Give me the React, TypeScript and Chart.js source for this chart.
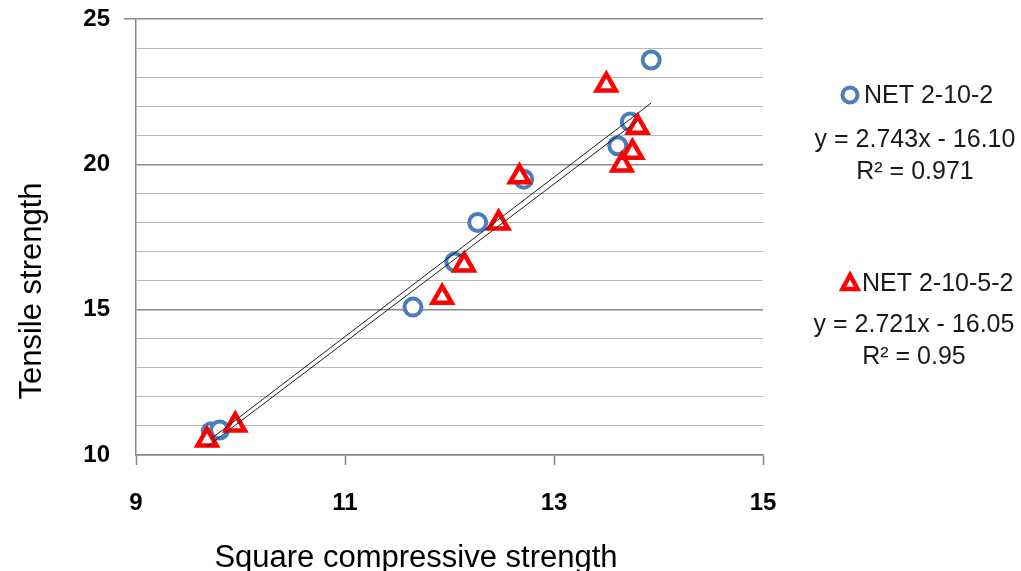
import React, { useEffect, useRef } from 'react';
import { Chart, registerables } from 'chart.js';

Chart.register(...registerables);

// NET 2-10-2 (blue circles)
const net2102X = [9.72, 9.80, 11.65, 12.05, 12.27, 12.71, 13.61, 13.73, 13.93];
const net2102Y = [10.80, 10.86, 15.09, 16.64, 18.00, 19.49, 20.64, 21.46, 23.59];

// NET 2-10-5-2 (red triangles)
const net21052X = [9.68, 9.95, 11.93, 12.14, 12.47, 12.67, 13.50, 13.65, 13.75, 13.80];
const net21052Y = [10.52, 11.03, 15.43, 16.54, 17.98, 19.57, 22.73, 19.98, 20.42, 21.28];

// linear trendlines (slope, intercept, R²)
const fit2102 = { slope: 2.743, intercept: -16.10, r2: '0.971' };
const fit21052 = { slope: 2.721, intercept: -16.05, r2: '0.95' };

const seriesNames = ['NET 2-10-2', 'NET 2-10-5-2'];
const xTitle = 'Square compressive strength';
const yTitle = 'Tensile strength';

const BLUE = '#4a7ebb';
const RED = '#ff0000';

function pts(xs: number[], ys: number[]) {
  return xs.map((x, i) => ({ x, y: ys[i] }));
}
function trend(xs: number[], fit: { slope: number; intercept: number }) {
  const lo = Math.min(...xs);
  const hi = Math.max(...xs);
  return [lo, hi].map((x) => ({ x, y: fit.slope * x + fit.intercept }));
}

const overlayPlugin = {
  id: 'overlay',
  afterDraw(chart: any) {
    const ctx = chart.ctx as CanvasRenderingContext2D;
    ctx.save();
    ctx.fillStyle = '#000';
    // axis titles
    ctx.font = '31px "Liberation Sans", Arial, sans-serif';
    ctx.textAlign = 'center';
    ctx.textBaseline = 'alphabetic';
    ctx.fillText(xTitle, 416, 567);
    ctx.save();
    ctx.translate(41, 291);
    ctx.rotate(-Math.PI / 2);
    ctx.fillText(yTitle, 0, 0);
    ctx.restore();

    // legend / trendline labels
    ctx.fillStyle = '#1a1a1a';
    ctx.font = '25px "Liberation Sans", Arial, sans-serif';
    ctx.textBaseline = 'middle';

    // series 1
    ctx.strokeStyle = BLUE;
    ctx.lineWidth = 4;
    ctx.beginPath();
    ctx.arc(850, 95, 7.5, 0, Math.PI * 2);
    ctx.stroke();
    ctx.textAlign = 'left';
    ctx.fillText(seriesNames[0], 864, 96);
    ctx.textAlign = 'center';
    ctx.fillText(`y = ${fit2102.slope.toFixed(3)}x - ${Math.abs(fit2102.intercept).toFixed(2)}`, 915, 140);
    ctx.fillText(`R\u00B2 = ${fit2102.r2}`, 915, 172);

    // series 2
    ctx.strokeStyle = RED;
    ctx.lineWidth = 4.5;
    ctx.lineJoin = 'miter';
    ctx.beginPath();
    ctx.moveTo(850, 275);
    ctx.lineTo(857.5, 289);
    ctx.lineTo(842.5, 289);
    ctx.closePath();
    ctx.stroke();
    ctx.textAlign = 'left';
    ctx.fillText(seriesNames[1], 862, 284);
    ctx.textAlign = 'center';
    ctx.fillText(`y = ${fit21052.slope.toFixed(3)}x - ${Math.abs(fit21052.intercept).toFixed(2)}`, 914, 325);
    ctx.fillText(`R\u00B2 = ${fit21052.r2}`, 914, 357);
    ctx.restore();
  },
};

export default function App() {
  const ref = useRef<HTMLCanvasElement | null>(null);
  useEffect(() => {
    const canvas = ref.current;
    if (!canvas) return;
    const chart = new Chart(canvas, {
      type: 'scatter',
      data: {
        datasets: [
          {
            type: 'line',
            data: trend(net2102X, fit2102),
            borderColor: '#1e1e1e',
            borderWidth: 1,
            pointRadius: 0,
            fill: false,
          },
          {
            type: 'line',
            data: trend(net21052X, fit21052),
            borderColor: '#1e1e1e',
            borderWidth: 1,
            pointRadius: 0,
            fill: false,
          },
          {
            label: seriesNames[1],
            data: pts(net21052X, net21052Y),
            pointStyle: 'triangle',
            pointRadius: 11,
            borderColor: RED,
            backgroundColor: '#ffffff',
            borderWidth: 4.5,
          },
          {
            label: seriesNames[0],
            data: pts(net2102X, net2102Y),
            pointStyle: 'circle',
            pointRadius: 8.5,
            borderColor: BLUE,
            backgroundColor: '#ffffff',
            borderWidth: 4,
          },
        ],
      } as any,
      options: {
        responsive: false,
        animation: false,
        layout: { padding: { left: 0, right: 258, top: 19, bottom: 0 } },
        plugins: { legend: { display: false }, tooltip: { enabled: false } },
        scales: {
          x: {
            type: 'linear',
            min: 9,
            max: 15,
            afterFit: (s: any) => {
              s.height = 116;
              s.paddingLeft = 0;
              s.paddingRight = 0;
            },
            ticks: {
              stepSize: 2,
              padding: 24,
              color: '#000',
              font: { family: '"Liberation Sans", Arial, sans-serif', size: 24, weight: 'bold' },
            },
            grid: { drawOnChartArea: false, tickLength: 10, tickColor: '#868686', tickWidth: 1.5 },
            border: { color: '#868686', width: 1.5 },
          },
          y: {
            min: 10,
            max: 25,
            afterFit: (s: any) => {
              s.width = 136;
              s.paddingTop = 0;
              s.paddingBottom = 0;
            },
            ticks: {
              stepSize: 1,
              padding: 14,
              color: '#000',
              autoSkip: false,
              font: { family: '"Liberation Sans", Arial, sans-serif', size: 24, weight: 'bold' },
              callback: (v: any) => (Number(v) % 5 === 0 ? String(v) : ''),
            },
            grid: {
              color: (c: any) => (c.tick && c.tick.value % 5 === 0 ? '#8a8a8a' : '#b8b8b8'),
              lineWidth: (c: any) => (c.tick && c.tick.value % 5 === 0 ? 1.5 : 1),
              tickColor: (c: any) => (c.tick && c.tick.value === 25 ? '#868686' : 'rgba(0,0,0,0)'),
              tickLength: 12,
            },
            border: { color: '#868686', width: 1.5 },
          },
        },
      } as any,
      plugins: [overlayPlugin],
    });
    return () => chart.destroy();
  }, []);
  return (
    <div style={{ position: 'absolute', left: 0, top: 0, width: 1021, height: 571, background: '#fff' }}>
      <canvas ref={ref} width={1021} height={571} style={{ display: 'block' }} />
    </div>
  );
}
